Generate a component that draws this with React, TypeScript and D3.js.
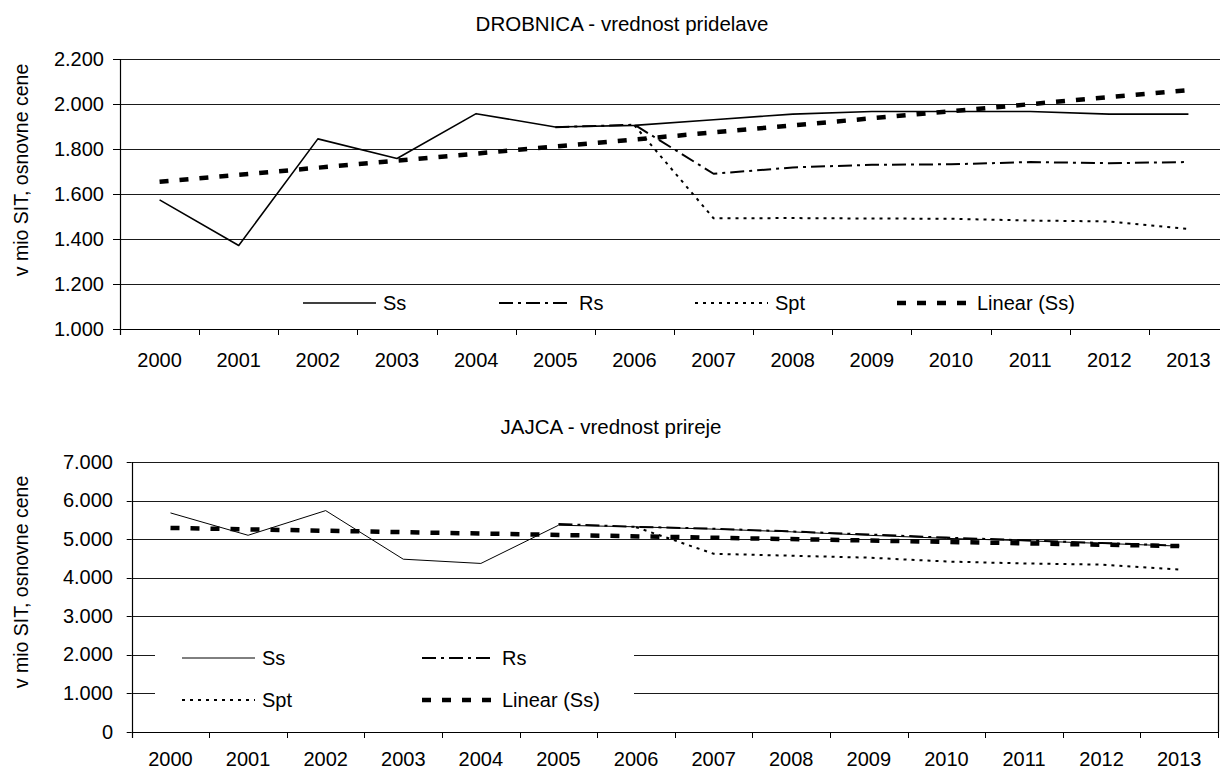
import React from 'react';
import * as d3 from 'd3';

const years: string[] = ['2000', '2001', '2002', '2003', '2004', '2005', '2006', '2007', '2008', '2009', '2010', '2011', '2012', '2013'];

// DROBNICA - vrednost pridelave (v mio SIT)
const drobnicaSs: (number | null)[] = [1574, 1371, 1845, 1758, 1957, 1898, 1905, 1930, 1955, 1967, 1967, 1967, 1955, 1955];
const drobnicaRs: (number | null)[] = [null, null, null, null, null, 1897, 1908, 1690, 1718, 1730, 1732, 1742, 1737, 1742];
const drobnicaSpt: (number | null)[] = [null, null, null, null, null, null, 1905, 1492, 1493, 1491, 1490, 1482, 1478, 1445];
const drobnicaTrend: number[] = [1654, 2062]; // Linear (Ss) at 2000 and 2013
const drobnicaTicks: number[] = [1000, 1200, 1400, 1600, 1800, 2000, 2200];

// JAJCA - vrednost prireje (v mio SIT)
const jajcaSs: (number | null)[] = [5680, 5100, 5740, 4480, 4370, 5360, 5320, 5260, 5190, 5100, 5020, 4960, 4890, 4820];
const jajcaRs: (number | null)[] = [null, null, null, null, null, 5390, 5320, 5270, 5200, 5120, 5040, 4970, 4900, 4830];
const jajcaSpt: (number | null)[] = [null, null, null, null, null, null, 5310, 4620, 4570, 4520, 4420, 4370, 4340, 4210];
const jajcaTrend: number[] = [5290, 4820];
const jajcaTicks: number[] = [0, 1000, 2000, 3000, 4000, 5000, 6000, 7000];

const seriesNames = ['Ss', 'Rs', 'Spt', 'Linear (Ss)'];

const FONT = '"Liberation Sans", Arial, Helvetica, sans-serif';
const locale = d3.formatLocale({ decimal: ',', thousands: '.', grouping: [3], currency: ['', ''] });
const fmt = locale.format(',d');

type LegendItem = { name: string; x: number; y: number };

interface ChartProps {
  title: string;
  titleX: number;
  titleY: number;
  left: number;
  right: number;
  top: number;
  bottom: number;
  ticks: number[];
  ss: (number | null)[];
  rs: (number | null)[];
  spt: (number | null)[];
  trend: number[];
  ssWidth: number;
  yTickLen: number;
  yLabelRight: number;
  yTitleY: number;
  xLabelY: number;
  rightBorder: boolean;
  legendBox?: { x: number; y: number; w: number; h: number };
  legend: LegendItem[];
}

const styleFor = (name: string, ssWidth: number) => {
  switch (name) {
    case 'Ss':
      return { w: ssWidth, dash: undefined as string | undefined };
    case 'Rs':
      return { w: 2, dash: '14,5,3,5' };
    case 'Spt':
      return { w: 2, dash: '3,5' };
    default:
      return { w: 4.5, dash: '9,11' };
  }
};

function Chart(p: ChartProps) {
  const x = d3.scaleBand<string>().domain(years).range([p.left, p.right]).padding(0);
  const y = d3
    .scaleLinear()
    .domain([p.ticks[0], p.ticks[p.ticks.length - 1]])
    .range([p.bottom, p.top]);
  const cx = (i: number) => (x(years[i]) as number) + x.bandwidth() / 2;
  const line = d3
    .line<number | null>()
    .defined((d) => d != null)
    .x((_, i) => cx(i))
    .y((d) => y(d as number));
  const trendLine = d3
    .line<[number, number]>()
    .x((d) => cx(d[0]))
    .y((d) => y(d[1]));
  const trendPts: [number, number][] = [
    [0, p.trend[0]],
    [years.length - 1, p.trend[1]],
  ];
  const crisp = (v: number) => Math.round(v) + 0.5;
  const boundaries = years.map((yr) => x(yr) as number).concat([p.right]);
  const paths: { name: string; d: string }[] = [
    { name: 'Ss', d: line(p.ss) || '' },
    { name: 'Rs', d: line(p.rs) || '' },
    { name: 'Spt', d: line(p.spt) || '' },
    { name: 'Linear (Ss)', d: trendLine(trendPts) || '' },
  ];
  return (
    <g fontFamily={FONT} fill="#000">
      <text x={p.titleX} y={p.titleY} textAnchor="middle" fontSize={20.5}>
        {p.title}
      </text>
      <text transform={`translate(28,${p.yTitleY}) rotate(-90)`} textAnchor="middle" fontSize={19.5}>
        v mio SIT, osnovne cene
      </text>
      {/* gridlines */}
      {p.ticks.map((t) => (
        <g key={t}>
          {t !== p.ticks[0] && (
            <line x1={p.left} x2={p.right} y1={crisp(y(t))} y2={crisp(y(t))} stroke="#1a1a1a" strokeWidth={1} />
          )}
          <line x1={p.left - p.yTickLen} x2={p.left} y1={crisp(y(t))} y2={crisp(y(t))} stroke="#000" strokeWidth={1} />
          <text x={p.yLabelRight} y={y(t)} dy="0.33em" textAnchor="end" fontSize={20}>
            {fmt(t)}
          </text>
        </g>
      ))}
      {p.legendBox && (
        <rect x={p.legendBox.x} y={p.legendBox.y} width={p.legendBox.w} height={p.legendBox.h} fill="#fff" />
      )}
      {/* axes */}
      <line x1={crisp(p.left)} x2={crisp(p.left)} y1={p.top} y2={p.bottom + 6} stroke="#000" strokeWidth={1.2} />
      <line x1={p.left} x2={p.right} y1={crisp(p.bottom)} y2={crisp(p.bottom)} stroke="#000" strokeWidth={1.2} />
      {p.rightBorder && (
        <line x1={crisp(p.right)} x2={crisp(p.right)} y1={p.top} y2={p.bottom} stroke="#000" strokeWidth={1.2} />
      )}
      {boundaries.map((b, i) => (
        <line key={i} x1={crisp(b)} x2={crisp(b)} y1={p.bottom} y2={p.bottom + 6} stroke="#000" strokeWidth={1} />
      ))}
      {years.map((yr, i) => (
        <text key={yr} x={cx(i)} y={p.xLabelY} textAnchor="middle" fontSize={20}>
          {yr}
        </text>
      ))}
      {/* series */}
      {paths.map((s) => {
        const st = styleFor(s.name, p.ssWidth);
        return (
          <path
            key={s.name}
            d={s.d}
            fill="none"
            stroke="#000"
            strokeWidth={st.w}
            strokeDasharray={st.dash}
            strokeLinejoin="round"
          />
        );
      })}
      {/* legend */}
      {p.legend.map((it) => {
        const st = styleFor(it.name, p.ssWidth);
        return (
          <g key={it.name}>
            <line
              x1={it.x}
              x2={it.x + 73}
              y1={it.y}
              y2={it.y}
              stroke="#000"
              strokeWidth={st.w}
              strokeDasharray={st.dash}
            />
            <text x={it.x + 80} y={it.y} dy="0.35em" fontSize={20}>
              {it.name}
            </text>
          </g>
        );
      })}
    </g>
  );
}

export default function App() {
  return (
    <div style={{ position: 'absolute', left: 0, top: 0, width: 1220, height: 772, background: '#fff' }}>
      <svg width={1220} height={772} viewBox="0 0 1220 772" style={{ display: 'block' }}>
        <rect x={0} y={0} width={1220} height={772} fill="#fff" />
        <Chart
          title="DROBNICA - vrednost pridelave"
          titleX={622}
          titleY={31}
          left={120}
          right={1228}
          top={59}
          bottom={329}
          ticks={drobnicaTicks}
          ss={drobnicaSs}
          rs={drobnicaRs}
          spt={drobnicaSpt}
          trend={drobnicaTrend}
          ssWidth={1.6}
          yTickLen={7}
          yLabelRight={104}
          yTitleY={170}
          xLabelY={367}
          rightBorder={false}
          legend={[
            { name: seriesNames[0], x: 303, y: 303 },
            { name: seriesNames[1], x: 499, y: 303 },
            { name: seriesNames[2], x: 695, y: 303 },
            { name: seriesNames[3], x: 897, y: 303 },
          ]}
        />
        <Chart
          title="JAJCA - vrednost prireje"
          titleX={611}
          titleY={434}
          left={131.7}
          right={1218}
          top={462}
          bottom={732}
          ticks={jajcaTicks}
          ss={jajcaSs}
          rs={jajcaRs}
          spt={jajcaSpt}
          trend={jajcaTrend}
          ssWidth={1}
          yTickLen={5}
          yLabelRight={113}
          yTitleY={582}
          xLabelY={766}
          rightBorder={true}
          legendBox={{ x: 155, y: 632, w: 479, h: 92 }}
          legend={[
            { name: seriesNames[0], x: 182, y: 658 },
            { name: seriesNames[1], x: 422, y: 658 },
            { name: seriesNames[2], x: 182, y: 700 },
            { name: seriesNames[3], x: 422, y: 700 },
          ]}
        />
      </svg>
    </div>
  );
}
